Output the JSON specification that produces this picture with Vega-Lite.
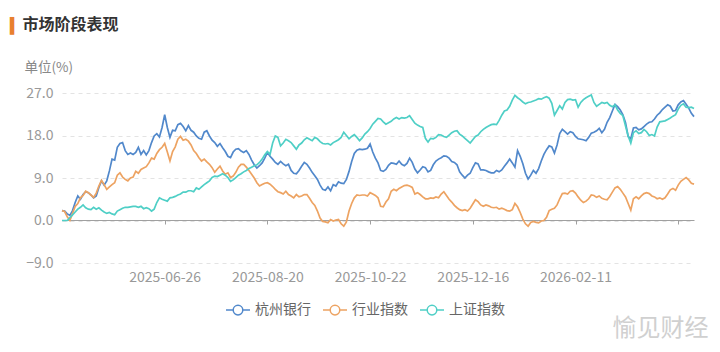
{
"$schema": "https://vega.github.io/schema/vega-lite/v6.json",
"autosize": "none",
"width": 632,
"height": 170,
"padding": {"left": 62, "top": 93, "right": 26, "bottom": 89},
"background": "#ffffff",
"config": {"font": "Noto Sans CJK SC", "view": {"stroke": null}},
"title": {"text": "▍", "subtitle": "⠀市场阶段表现", "anchor": "start", "frame": "group", "color": "#E8802F", "font": "DejaVu Sans", "fontSize": 15, "fontWeight": "normal", "subtitleFont": "DejaVu Sans, Noto Sans CJK SC", "subtitleFontSize": 16, "subtitleFontWeight": "bold", "subtitleColor": "#333333", "subtitlePadding": -17, "dx": -52, "offset": 24.5},
"data": {"values": [
{"d":"2025-04-28","杭州银行":2.1,"行业指数":2.1,"上证指数":0.0},
{"d":"2025-04-29","杭州银行":2.0,"行业指数":1.9,"上证指数":0.0},
{"d":"2025-04-30","杭州银行":1.4,"行业指数":0.8,"上证指数":0.0},
{"d":"2025-05-06","杭州银行":1.1,"行业指数":0.0,"上证指数":0.6},
{"d":"2025-05-07","杭州银行":2.1,"行业指数":1.5,"上证指数":1.2},
{"d":"2025-05-08","杭州银行":3.8,"行业指数":3.0,"上证指数":1.8},
{"d":"2025-05-09","杭州银行":5.2,"行业指数":3.6,"上证指数":2.4},
{"d":"2025-05-12","杭州银行":4.5,"行业指数":4.8,"上证指数":2.8},
{"d":"2025-05-13","杭州银行":5.5,"行业指数":5.3,"上证指数":3.3},
{"d":"2025-05-14","杭州银行":6.1,"行业指数":6.2,"上证指数":2.7},
{"d":"2025-05-15","杭州银行":5.9,"行业指数":5.9,"上证指数":2.4},
{"d":"2025-05-16","杭州银行":5.4,"行业指数":5.4,"上证指数":2.3},
{"d":"2025-05-19","杭州银行":4.8,"行业指数":4.9,"上证指数":2.8},
{"d":"2025-05-20","杭州银行":5.2,"行业指数":5.8,"上证指数":2.4},
{"d":"2025-05-21","杭州银行":7.0,"行业指数":7.3,"上证指数":2.7},
{"d":"2025-05-22","杭州银行":8.4,"行业指数":8.5,"上证指数":2.2},
{"d":"2025-05-23","杭州银行":7.5,"行业指数":7.6,"上证指数":1.8},
{"d":"2025-05-26","杭州银行":8.4,"行业指数":6.6,"上证指数":1.5},
{"d":"2025-05-27","杭州银行":10.5,"行业指数":7.1,"上证指数":1.7},
{"d":"2025-05-28","杭州银行":13.0,"行业指数":7.6,"上证指数":1.4},
{"d":"2025-05-29","杭州银行":12.8,"行业指数":8.0,"上证指数":1.2},
{"d":"2025-05-30","杭州银行":15.5,"行业指数":9.6,"上证指数":2.0},
{"d":"2025-06-03","杭州银行":16.3,"行业指数":10.1,"上证指数":2.3},
{"d":"2025-06-04","杭州银行":16.5,"行业指数":9.2,"上证指数":2.6},
{"d":"2025-06-05","杭州银行":14.8,"行业指数":8.7,"上证指数":2.8},
{"d":"2025-06-06","杭州银行":14.0,"行业指数":8.4,"上证指数":2.8},
{"d":"2025-06-09","杭州银行":14.3,"行业指数":9.0,"上证指数":2.9},
{"d":"2025-06-10","杭州银行":14.0,"行业指数":9.2,"上证指数":3.0},
{"d":"2025-06-11","杭州银行":14.4,"行业指数":10.4,"上证指数":3.0},
{"d":"2025-06-12","杭州银行":15.5,"行业指数":10.0,"上证指数":2.8},
{"d":"2025-06-13","杭州银行":14.0,"行业指数":10.8,"上证指数":3.0},
{"d":"2025-06-16","杭州银行":14.8,"行业指数":11.1,"上证指数":2.5},
{"d":"2025-06-17","杭州银行":13.9,"行业指数":11.4,"上证指数":2.7},
{"d":"2025-06-18","杭州银行":14.8,"行业指数":12.2,"上证指数":2.5},
{"d":"2025-06-19","杭州银行":16.5,"行业指数":13.2,"上证指数":2.0},
{"d":"2025-06-20","杭州银行":17.9,"行业指数":13.0,"上证指数":2.4},
{"d":"2025-06-23","杭州银行":18.4,"行业指数":14.2,"上证指数":3.8},
{"d":"2025-06-24","杭州银行":17.7,"行业指数":15.0,"上证指数":4.8},
{"d":"2025-06-25","杭州银行":19.7,"行业指数":15.5,"上证指数":4.5},
{"d":"2025-06-26","杭州银行":22.4,"行业指数":16.3,"上证指数":4.3},
{"d":"2025-06-27","杭州银行":19.7,"行业指数":14.5,"上证指数":4.1},
{"d":"2025-06-30","杭州银行":17.6,"行业指数":12.6,"上证指数":4.8},
{"d":"2025-07-01","杭州银行":19.1,"行业指数":14.6,"上证指数":4.9},
{"d":"2025-07-02","杭州银行":19.0,"行业指数":15.6,"上证指数":5.1},
{"d":"2025-07-03","杭州银行":20.3,"行业指数":17.2,"上证指数":5.4},
{"d":"2025-07-04","杭州银行":20.6,"行业指数":17.8,"上证指数":5.6},
{"d":"2025-07-07","杭州银行":19.9,"行业指数":17.0,"上证指数":6.0},
{"d":"2025-07-08","杭州银行":19.0,"行业指数":17.2,"上证指数":6.0},
{"d":"2025-07-09","杭州银行":20.1,"行业指数":16.8,"上证指数":6.3},
{"d":"2025-07-10","杭州银行":19.1,"行业指数":16.0,"上证指数":6.3},
{"d":"2025-07-11","杭州银行":18.7,"行业指数":14.8,"上证指数":6.1},
{"d":"2025-07-14","杭州银行":17.9,"行业指数":14.2,"上证指数":6.9},
{"d":"2025-07-15","杭州银行":17.4,"行业指数":13.3,"上证指数":6.6},
{"d":"2025-07-16","杭州银行":17.2,"行业指数":12.6,"上证指数":7.1},
{"d":"2025-07-17","杭州银行":18.7,"行业指数":13.0,"上证指数":7.6},
{"d":"2025-07-18","杭州银行":19.0,"行业指数":12.4,"上证指数":8.0},
{"d":"2025-07-21","杭州银行":17.9,"行业指数":11.9,"上证指数":8.4},
{"d":"2025-07-22","杭州银行":17.0,"行业指数":11.2,"上证指数":9.1},
{"d":"2025-07-23","杭州银行":16.5,"行业指数":10.2,"上证指数":9.4},
{"d":"2025-07-24","杭州银行":15.7,"行业指数":10.9,"上证指数":9.3},
{"d":"2025-07-25","杭州银行":16.3,"行业指数":11.5,"上证指数":9.6},
{"d":"2025-07-28","杭州银行":15.4,"行业指数":10.5,"上证指数":9.9},
{"d":"2025-07-29","杭州银行":14.6,"行业指数":9.8,"上证指数":9.6},
{"d":"2025-07-30","杭州银行":13.6,"行业指数":10.1,"上证指数":9.1},
{"d":"2025-07-31","杭州银行":13.3,"行业指数":9.1,"上证指数":8.3},
{"d":"2025-08-01","杭州银行":14.5,"行业指数":9.4,"上证指数":8.6},
{"d":"2025-08-04","杭州银行":15.1,"行业指数":10.2,"上证指数":9.1},
{"d":"2025-08-05","杭州银行":15.2,"行业指数":11.3,"上证指数":9.6},
{"d":"2025-08-06","杭州银行":14.7,"行业指数":11.9,"上证指数":9.9},
{"d":"2025-08-07","杭州银行":14.4,"行业指数":11.9,"上证指数":10.3},
{"d":"2025-08-08","杭州银行":14.8,"行业指数":11.3,"上证指数":10.6},
{"d":"2025-08-11","杭州银行":14.0,"行业指数":10.6,"上证指数":11.0},
{"d":"2025-08-12","杭州银行":12.8,"行业指数":9.8,"上证指数":11.3},
{"d":"2025-08-13","杭州银行":11.8,"行业指数":9.0,"上证指数":11.6},
{"d":"2025-08-14","杭州银行":11.1,"行业指数":8.0,"上证指数":11.8},
{"d":"2025-08-15","杭州银行":11.6,"行业指数":7.3,"上证指数":12.3},
{"d":"2025-08-18","杭州银行":12.2,"行业指数":7.6,"上证指数":13.0},
{"d":"2025-08-19","杭州银行":13.2,"行业指数":7.9,"上证指数":13.9},
{"d":"2025-08-20","杭州银行":14.4,"行业指数":8.0,"上证指数":14.6},
{"d":"2025-08-21","杭州银行":13.6,"行业指数":7.7,"上证指数":14.0},
{"d":"2025-08-22","杭州银行":13.0,"行业指数":7.2,"上证指数":16.4},
{"d":"2025-08-25","杭州银行":12.3,"行业指数":6.6,"上证指数":17.9},
{"d":"2025-08-26","杭州银行":11.9,"行业指数":6.1,"上证指数":17.6},
{"d":"2025-08-27","杭州银行":12.5,"行业指数":5.9,"上证指数":15.8},
{"d":"2025-08-28","杭州银行":12.0,"行业指数":5.6,"上证指数":16.4},
{"d":"2025-08-29","杭州银行":11.6,"行业指数":6.2,"上证指数":17.2},
{"d":"2025-09-01","杭州银行":11.9,"行业指数":5.5,"上证指数":16.9},
{"d":"2025-09-02","杭州银行":10.6,"行业指数":5.2,"上证指数":16.5},
{"d":"2025-09-03","杭州银行":10.0,"行业指数":4.8,"上证指数":15.8},
{"d":"2025-09-04","杭州银行":9.9,"行业指数":5.5,"上证指数":15.1},
{"d":"2025-09-05","杭州银行":10.6,"行业指数":5.0,"上证指数":16.0},
{"d":"2025-09-08","杭州银行":11.5,"行业指数":5.2,"上证指数":16.4},
{"d":"2025-09-09","杭州银行":12.3,"行业指数":5.5,"上证指数":17.1},
{"d":"2025-09-10","杭州银行":11.9,"行业指数":5.5,"上证指数":17.5},
{"d":"2025-09-11","杭州银行":11.1,"行业指数":4.7,"上证指数":17.2},
{"d":"2025-09-12","杭州银行":10.2,"行业指数":3.8,"上证指数":16.9},
{"d":"2025-09-15","杭州银行":9.5,"行业指数":3.2,"上证指数":17.6},
{"d":"2025-09-16","杭州银行":8.7,"行业指数":2.0,"上证指数":17.3},
{"d":"2025-09-17","杭州银行":7.5,"行业指数":0.5,"上证指数":16.7},
{"d":"2025-09-18","杭州银行":6.6,"行业指数":-0.2,"上证指数":16.3},
{"d":"2025-09-19","杭州银行":6.4,"行业指数":-0.3,"上证指数":16.2},
{"d":"2025-09-22","杭州银行":7.1,"行业指数":-0.5,"上证指数":16.3},
{"d":"2025-09-23","杭州银行":6.3,"行业指数":0.2,"上证指数":16.0},
{"d":"2025-09-24","杭州银行":7.6,"行业指数":-0.1,"上证指数":16.5},
{"d":"2025-09-25","杭州银行":7.3,"行业指数":0.1,"上证指数":16.8},
{"d":"2025-09-26","杭州银行":8.2,"行业指数":0.2,"上证指数":17.1},
{"d":"2025-09-29","杭州银行":7.9,"行业指数":-0.7,"上证指数":17.6},
{"d":"2025-09-30","杭州银行":7.8,"行业指数":-1.2,"上证指数":18.7},
{"d":"2025-10-09","杭州银行":8.7,"行业指数":-0.3,"上证指数":18.0},
{"d":"2025-10-10","杭州银行":10.4,"行业指数":2.0,"上证指数":17.3},
{"d":"2025-10-13","杭州银行":12.5,"行业指数":3.6,"上证指数":17.8},
{"d":"2025-10-14","杭州银行":14.2,"行业指数":4.8,"上证指数":18.2},
{"d":"2025-10-15","杭州银行":14.9,"行业指数":5.4,"上证指数":17.6},
{"d":"2025-10-16","杭州银行":15.1,"行业指数":5.3,"上证指数":16.9},
{"d":"2025-10-17","杭州银行":15.0,"行业指数":5.4,"上证指数":17.5},
{"d":"2025-10-20","杭州银行":15.1,"行业指数":5.4,"上证指数":18.3},
{"d":"2025-10-21","杭州银行":15.3,"行业指数":5.2,"上证指数":18.8},
{"d":"2025-10-22","杭州银行":16.2,"行业指数":5.9,"上证指数":19.5},
{"d":"2025-10-23","杭州银行":14.5,"行业指数":5.6,"上证指数":20.4},
{"d":"2025-10-24","杭州银行":13.2,"行业指数":5.3,"上证指数":21.0},
{"d":"2025-10-27","杭州银行":12.2,"行业指数":4.8,"上证指数":21.6},
{"d":"2025-10-28","杭州银行":10.6,"行业指数":3.0,"上证指数":21.5},
{"d":"2025-10-29","杭州银行":10.4,"行业指数":2.9,"上证指数":20.9},
{"d":"2025-10-30","杭州银行":10.8,"行业指数":3.9,"上证指数":20.4},
{"d":"2025-10-31","杭州银行":11.7,"行业指数":4.6,"上证指数":20.7},
{"d":"2025-11-03","杭州银行":12.2,"行业指数":6.2,"上证指数":21.0},
{"d":"2025-11-04","杭州银行":12.1,"行业指数":6.6,"上证指数":21.5},
{"d":"2025-11-05","杭州银行":11.9,"行业指数":6.3,"上证指数":21.8},
{"d":"2025-11-06","杭州银行":12.6,"行业指数":6.8,"上证指数":21.5},
{"d":"2025-11-07","杭州银行":11.9,"行业指数":7.1,"上证指数":21.8},
{"d":"2025-11-10","杭州银行":11.6,"行业指数":7.4,"上证指数":21.7},
{"d":"2025-11-11","杭州银行":12.1,"行业指数":7.5,"上证指数":21.8},
{"d":"2025-11-12","杭州银行":13.2,"行业指数":7.3,"上证指数":22.2},
{"d":"2025-11-13","杭州银行":12.3,"行业指数":7.0,"上证指数":21.4},
{"d":"2025-11-14","杭州银行":10.9,"行业指数":5.6,"上证指数":20.6},
{"d":"2025-11-17","杭州银行":10.1,"行业指数":5.9,"上证指数":20.2},
{"d":"2025-11-18","杭州银行":10.7,"行业指数":5.5,"上证指数":19.9},
{"d":"2025-11-19","杭州银行":11.4,"行业指数":5.0,"上证指数":19.7},
{"d":"2025-11-20","杭州银行":11.2,"行业指数":4.6,"上证指数":17.4},
{"d":"2025-11-21","杭州银行":10.3,"行业指数":4.6,"上证指数":16.6},
{"d":"2025-11-24","杭州银行":10.6,"行业指数":4.8,"上证指数":17.4},
{"d":"2025-11-25","杭州银行":11.8,"行业指数":4.7,"上证指数":17.3},
{"d":"2025-11-26","杭州银行":12.6,"行业指数":5.0,"上证指数":17.6},
{"d":"2025-11-27","杭州银行":13.0,"行业指数":4.8,"上证指数":18.2},
{"d":"2025-11-28","杭州银行":13.3,"行业指数":5.6,"上证指数":18.1},
{"d":"2025-12-01","杭州银行":13.7,"行业指数":6.1,"上证指数":17.8},
{"d":"2025-12-02","杭州银行":13.6,"行业指数":5.3,"上证指数":17.6},
{"d":"2025-12-03","杭州银行":13.2,"行业指数":4.5,"上证指数":18.1},
{"d":"2025-12-04","杭州银行":12.5,"行业指数":3.9,"上证指数":18.6},
{"d":"2025-12-05","杭州银行":12.3,"行业指数":3.2,"上证指数":18.9},
{"d":"2025-12-08","杭州银行":11.8,"行业指数":2.7,"上证指数":19.0},
{"d":"2025-12-09","杭州银行":10.3,"行业指数":2.3,"上证指数":18.3},
{"d":"2025-12-10","杭州银行":9.6,"行业指数":2.1,"上证指数":17.9},
{"d":"2025-12-11","杭州银行":9.0,"行业指数":2.3,"上证指数":17.4},
{"d":"2025-12-12","杭州银行":9.6,"行业指数":2.0,"上证指数":16.9},
{"d":"2025-12-15","杭州银行":10.0,"行业指数":2.6,"上证指数":16.4},
{"d":"2025-12-16","杭州银行":11.2,"行业指数":3.5,"上证指数":17.1},
{"d":"2025-12-17","杭州银行":12.2,"行业指数":4.4,"上证指数":17.8},
{"d":"2025-12-18","杭州银行":12.0,"行业指数":4.0,"上证指数":18.1},
{"d":"2025-12-19","杭州银行":10.7,"行业指数":3.3,"上证指数":18.8},
{"d":"2025-12-22","杭州银行":10.7,"行业指数":3.0,"上证指数":19.3},
{"d":"2025-12-23","杭州银行":10.6,"行业指数":3.3,"上证指数":19.7},
{"d":"2025-12-24","杭州银行":10.3,"行业指数":3.1,"上证指数":20.0},
{"d":"2025-12-25","杭州银行":10.1,"行业指数":2.8,"上证指数":20.3},
{"d":"2025-12-26","杭州银行":10.1,"行业指数":2.7,"上证指数":20.4},
{"d":"2025-12-29","杭州银行":10.6,"行业指数":2.8,"上证指数":20.3},
{"d":"2025-12-30","杭州银行":10.3,"行业指数":2.4,"上证指数":21.2},
{"d":"2025-12-31","杭州银行":10.7,"行业指数":2.6,"上证指数":22.3},
{"d":"2026-01-05","杭州银行":11.5,"行业指数":2.4,"上证指数":23.2},
{"d":"2026-01-06","杭州银行":12.2,"行业指数":2.1,"上证指数":23.4},
{"d":"2026-01-07","杭州银行":13.0,"行业指数":2.0,"上证指数":24.2},
{"d":"2026-01-08","杭州银行":12.2,"行业指数":2.3,"上证指数":25.5},
{"d":"2026-01-09","杭州银行":11.3,"行业指数":3.6,"上证指数":26.5},
{"d":"2026-01-12","杭州银行":14.8,"行业指数":2.9,"上证指数":26.0},
{"d":"2026-01-13","杭州银行":13.6,"行业指数":1.7,"上证指数":25.6},
{"d":"2026-01-14","杭州银行":12.0,"行业指数":0.3,"上证指数":25.1},
{"d":"2026-01-15","杭州银行":10.0,"行业指数":-0.7,"上证指数":24.7},
{"d":"2026-01-16","杭州银行":8.8,"行业指数":-1.2,"上证指数":25.0},
{"d":"2026-01-19","杭州银行":9.6,"行业指数":-0.4,"上证指数":25.1},
{"d":"2026-01-20","杭州银行":10.6,"行业指数":-0.2,"上证指数":25.3},
{"d":"2026-01-21","杭州银行":10.0,"行业指数":-0.4,"上证指数":25.5},
{"d":"2026-01-22","杭州银行":11.0,"行业指数":-0.5,"上证指数":25.8},
{"d":"2026-01-23","杭州银行":12.6,"行业指数":-0.1,"上证指数":25.7},
{"d":"2026-01-26","杭州银行":14.0,"行业指数":0.0,"上证指数":26.0},
{"d":"2026-01-27","杭州银行":15.0,"行业指数":0.7,"上证指数":26.2},
{"d":"2026-01-28","杭州银行":15.8,"行业指数":2.1,"上证指数":25.9},
{"d":"2026-01-29","杭州银行":15.6,"行业指数":2.4,"上证指数":24.8},
{"d":"2026-01-30","杭州银行":14.3,"行业指数":2.6,"上证指数":22.3},
{"d":"2026-02-02","杭州银行":16.0,"行业指数":3.3,"上证指数":23.3},
{"d":"2026-02-03","杭州银行":18.4,"行业指数":4.6,"上证指数":24.3},
{"d":"2026-02-04","杭州银行":19.3,"行业指数":5.7,"上证指数":23.6},
{"d":"2026-02-05","杭州银行":18.8,"行业指数":5.8,"上证指数":25.0},
{"d":"2026-02-06","杭州银行":18.3,"行业指数":5.6,"上证指数":25.6},
{"d":"2026-02-09","杭州银行":18.8,"行业指数":6.2,"上证指数":25.7},
{"d":"2026-02-10","杭州银行":18.6,"行业指数":6.3,"上证指数":25.5},
{"d":"2026-02-11","杭州银行":17.8,"行业指数":5.8,"上证指数":25.6},
{"d":"2026-02-12","杭州银行":17.3,"行业指数":5.0,"上证指数":24.0},
{"d":"2026-02-13","杭州银行":17.2,"行业指数":4.3,"上证指数":25.0},
{"d":"2026-02-24","杭州银行":17.1,"行业指数":3.8,"上证指数":25.6},
{"d":"2026-02-25","杭州银行":16.9,"行业指数":4.1,"上证指数":26.0},
{"d":"2026-02-26","杭州银行":17.6,"行业指数":4.6,"上证指数":26.3},
{"d":"2026-02-27","杭州银行":18.5,"行业指数":5.4,"上证指数":26.6},
{"d":"2026-03-02","杭州银行":18.7,"行业指数":5.3,"上证指数":25.0},
{"d":"2026-03-03","杭州银行":19.0,"行业指数":4.9,"上证指数":24.2},
{"d":"2026-03-04","杭州银行":19.5,"行业指数":5.2,"上证指数":24.6},
{"d":"2026-03-05","杭州银行":18.6,"行业指数":4.7,"上证指数":25.0},
{"d":"2026-03-06","杭州银行":19.3,"行业指数":4.5,"上证指数":24.8},
{"d":"2026-03-09","杭州银行":20.8,"行业指数":4.4,"上证指数":25.0},
{"d":"2026-03-10","杭州银行":21.8,"行业指数":5.1,"上证指数":24.4},
{"d":"2026-03-11","杭州银行":23.2,"行业指数":6.0,"上证指数":24.1},
{"d":"2026-03-12","杭州银行":24.6,"行业指数":6.9,"上证指数":24.5},
{"d":"2026-03-13","杭州银行":24.1,"行业指数":7.2,"上证指数":23.4},
{"d":"2026-03-16","杭州银行":23.4,"行业指数":6.6,"上证指数":22.7},
{"d":"2026-03-17","杭州银行":22.4,"行业指数":5.8,"上证指数":22.2},
{"d":"2026-03-18","杭州银行":20.7,"行业指数":5.0,"上证指数":20.0},
{"d":"2026-03-19","杭州银行":17.8,"行业指数":3.6,"上证指数":17.9},
{"d":"2026-03-20","杭州银行":17.3,"行业指数":2.2,"上证指数":16.4},
{"d":"2026-03-23","杭州银行":19.6,"行业指数":4.6,"上证指数":18.6},
{"d":"2026-03-24","杭州银行":19.7,"行业指数":5.0,"上证指数":19.0},
{"d":"2026-03-25","杭州银行":19.2,"行业指数":4.6,"上证指数":18.4},
{"d":"2026-03-26","杭州银行":19.4,"行业指数":5.2,"上证指数":18.6},
{"d":"2026-03-27","杭州银行":19.9,"行业指数":5.7,"上证指数":19.3},
{"d":"2026-03-30","杭州银行":20.4,"行业指数":5.9,"上证指数":18.8},
{"d":"2026-03-31","杭州银行":20.8,"行业指数":5.7,"上证指数":18.0},
{"d":"2026-04-01","杭州银行":20.9,"行业指数":5.2,"上证指数":18.2},
{"d":"2026-04-02","杭州银行":21.5,"行业指数":5.0,"上证指数":17.9},
{"d":"2026-04-03","杭州银行":22.3,"行业指数":4.6,"上证指数":19.8},
{"d":"2026-04-07","杭州银行":22.8,"行业指数":4.8,"上证指数":20.9},
{"d":"2026-04-08","杭州银行":23.5,"行业指数":4.5,"上证指数":21.0},
{"d":"2026-04-09","杭州银行":24.0,"行业指数":4.8,"上证指数":21.1},
{"d":"2026-04-10","杭州银行":24.5,"行业指数":5.6,"上证指数":21.4},
{"d":"2026-04-13","杭州银行":24.2,"行业指数":6.5,"上证指数":21.7},
{"d":"2026-04-14","杭州银行":23.2,"行业指数":6.8,"上证指数":22.1},
{"d":"2026-04-15","杭州银行":23.3,"行业指数":6.4,"上证指数":22.4},
{"d":"2026-04-16","杭州银行":24.5,"行业指数":7.5,"上证指数":23.6},
{"d":"2026-04-17","杭州银行":25.1,"行业指数":8.3,"上证指数":24.4},
{"d":"2026-04-20","杭州银行":25.4,"行业指数":8.7,"上证指数":24.7},
{"d":"2026-04-21","杭州银行":24.6,"行业指数":9.1,"上证指数":24.0},
{"d":"2026-04-22","杭州银行":23.8,"行业指数":8.6,"上证指数":23.9},
{"d":"2026-04-23","杭州银行":22.7,"行业指数":7.9,"上证指数":24.0},
{"d":"2026-04-24","杭州银行":22.0,"行业指数":7.7,"上证指数":23.7}
]},
"transform": [{"fold": ["杭州银行", "行业指数", "上证指数"], "as": ["系列", "涨跌幅"]}],
"mark": {"type": "line", "strokeWidth": 1.7, "interpolate": "linear"},
"encoding": {
  "x": {"field": "d", "type": "ordinal", "scale": {"type": "point", "padding": 0},
    "axis": {"values": ["2025-06-26", "2025-08-20", "2025-10-22", "2025-12-16", "2026-02-11", "2026-04-16"],
      "labelExpr": "datum.value == '2026-04-16' ? '' : datum.value",
      "labelAngle": 0, "labelFontSize": 14, "labelColor": "#999999", "labelOverlap": false, "labelFlush": false,
      "offset": -43, "domainColor": "#a0a0a0", "domainWidth": 1, "tickColor": "#a0a0a0", "tickSize": 4, "labelPadding": 46, "grid": false,
      "title": "愉见财经", "titleFontSize": 24, "titleFontWeight": "normal", "titleColor": "#d0d0d0", "titleX": 598, "titleY": 108, "titleAlign": "center", "titleBaseline": "middle"}},
  "y": {"field": "涨跌幅", "type": "quantitative", "scale": {"domain": [-9, 27], "nice": false, "zero": false},
    "axis": {"values": [-9, 0, 9, 18, 27], "format": ".1f", "labelColor": "#999999", "labelFontSize": 14, "labelPadding": 9, "domain": false, "ticks": false,
      "grid": true, "gridColor": "#e3e3e3", "gridDash": [4, 4], "gridWidth": 1,
      "title": "单位(%)", "titleAngle": 0, "titleX": -38, "titleY": -26, "titleAlign": "left", "titleBaseline": "middle", "titleFontWeight": "normal", "titleFontSize": 13.5, "titleColor": "#888888"}},
  "color": {"field": "系列", "type": "nominal",
    "scale": {"domain": ["杭州银行", "行业指数", "上证指数"], "range": ["#5188cb", "#eda362", "#4fcfc6"]},
    "legend": {"orient": "none", "legendX": 163, "legendY": 204, "direction": "horizontal", "title": null, "padding": 0,
      "symbolType": "M-1,0L-0.4,0M0.4,0L1,0M0.4,0A0.4,0.4,0,1,1,-0.4,0A0.4,0.4,0,1,1,0.4,0Z",
      "symbolSize": 576, "symbolStrokeWidth": 1.5, "symbolFillColor": "#ffffff", "labelFontSize": 14, "labelColor": "#666666", "labelOffset": 4, "columnPadding": 9}}
}
}
